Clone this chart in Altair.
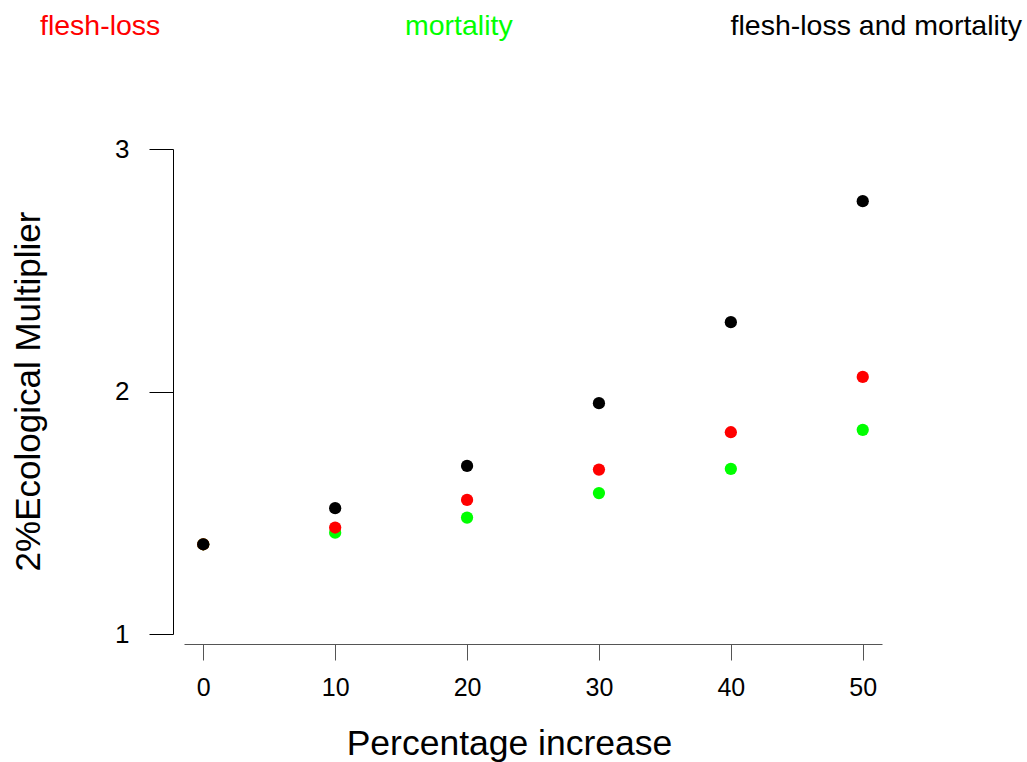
import altair as alt
import pandas as pd

pct = [0, 10, 20, 30, 40, 50]
flesh_loss = [1.37, 1.439, 1.553, 1.678, 1.832, 2.060]
mortality = [1.37, 1.418, 1.480, 1.581, 1.681, 1.842]
both = [1.370, 1.519, 1.693, 1.952, 2.286, 2.785]
y_ticks = [1, 2, 3]

series_names = ["mortality", "flesh-loss", "flesh-loss and mortality"]
series_colors = ["#00ff00", "#ff0000", "#000000"]
series_values = [mortality, flesh_loss, both]

rows = []
for name, vals in zip(series_names, series_values):
    for p, v in zip(pct, vals):
        rows.append({"pct": p, "value": v, "series": name})
df = pd.DataFrame(rows)

FONT = "Liberation Sans"

x_axis = alt.Axis(
    values=pct, title="Percentage increase", grid=False,
    labelExpr="format(datum.value, 'd')",
    tickSize=16, tickColor="#555555", domainColor="#555555",
    labelFontSize=25, labelPadding=15, labelFont=FONT, labelColor="black",
    offset=10, titleFont=FONT, titleFontSize=35.5, titleFontWeight="normal",
    titleColor="black", titleX=325, titleY=110, titleAlign="center",
    titleBaseline="alphabetic", labelAngle=0, labelOverlap=False,
)
y_axis = alt.Axis(
    values=y_ticks, title="2%Ecological Multiplier", grid=False,
    labelExpr="format(datum.value, 'd')",
    tickSize=24, tickColor="black", domainColor="black",
    labelFontSize=26, labelPadding=20, labelFont=FONT, labelColor="black",
    offset=11, titleFont=FONT, titleFontSize=35, titleFontWeight="normal",
    titleColor="black", titleX=-145, titleY=242, titleAngle=270,
    titleAlign="center", titleBaseline="middle", labelOverlap=False,
)

points = alt.Chart(df).mark_circle(size=150, opacity=1).encode(
    x=alt.X("pct:Q", scale=alt.Scale(domain=[-1.46, 51.46], nice=False, zero=False), axis=x_axis),
    y=alt.Y("value:Q", scale=alt.Scale(domain=[1, 3], nice=False, zero=False), axis=y_axis),
    color=alt.Color("series:N", scale=alt.Scale(domain=series_names, range=series_colors), legend=None),
    order=alt.Order("ord:Q"),
).transform_calculate(
    ord="indexof(['mortality','flesh-loss','flesh-loss and mortality'], datum.series)"
)

leg_df = pd.DataFrame({"label": series_names, "color": series_colors})

def legend_text(name, color, xpos, align):
    return alt.Chart(leg_df).transform_filter(
        alt.datum.label == name
    ).mark_text(
        font=FONT, fontSize=28.5, align=align, baseline="alphabetic", color=color
    ).encode(
        text="label:N", x=alt.value(xpos), y=alt.value(-114)
    )

legend = (
    legend_text("flesh-loss", "#ff0000", -144, "left")
    + legend_text("mortality", "#00ff00", 221, "left")
    + legend_text("flesh-loss and mortality", "#000000", 838, "right")
)

chart = alt.layer(points, legend).properties(
    width=698, height=485,
    autosize=alt.AutoSizeParams(type="none"),
    padding={"left": 184, "top": 149, "right": 145, "bottom": 128},
    background="white",
).configure_view(stroke=None)

chart.save("out.html", embed_options={"renderer": "svg", "actions": False})
